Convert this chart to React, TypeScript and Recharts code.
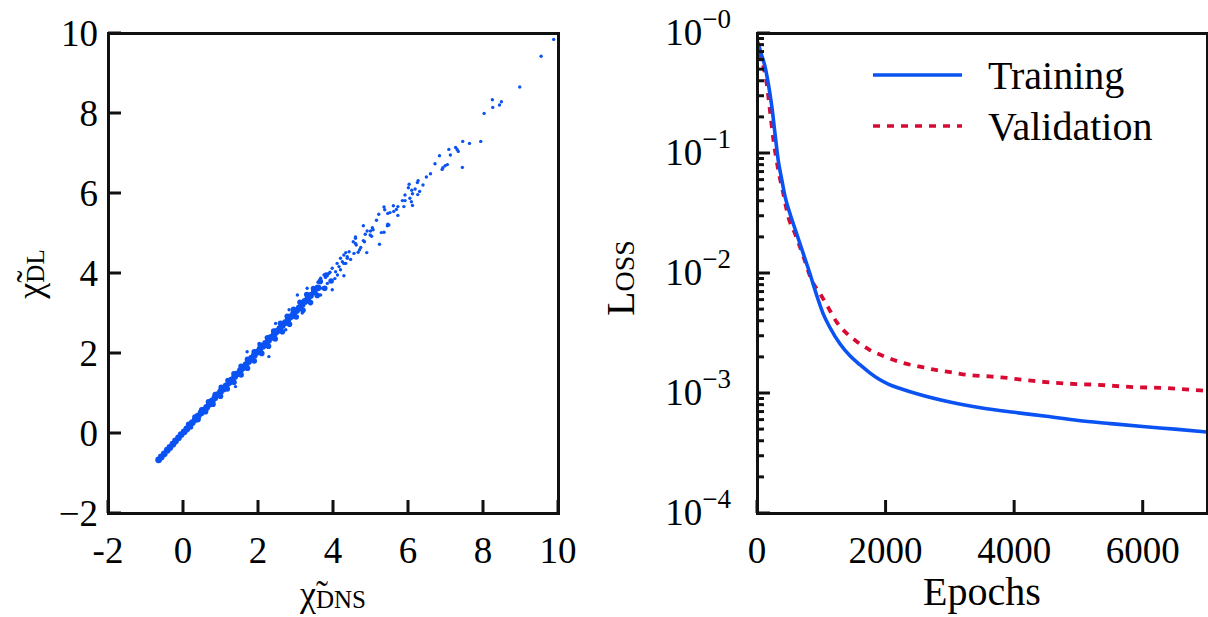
import React from 'react';
import {
  ScatterChart,
  Scatter,
  LineChart,
  Line,
  XAxis,
  YAxis,
  Legend,
} from 'recharts';

const FONT = 'Liberation Serif, DejaVu Serif, Times New Roman, serif';
const BLUE = '#0a52f2';
const RED = '#d80a32';

// left panel: chi_DNS vs chi_DL
const chiTicks = [-2, 0, 2, 4, 6, 8, 10];

// dense part of the cloud, read along the band
const bandCentre: [number, number][] = [
  [-0.65, -0.67], [-0.58, -0.6], [-0.5, -0.52], [-0.42, -0.43], [-0.35, -0.36],
  [-0.27, -0.28], [-0.2, -0.2], [-0.12, -0.12], [-0.05, -0.04], [0.03, 0.03],
  [0.1, 0.1], [0.18, 0.19], [0.25, 0.26], [0.33, 0.34], [0.4, 0.42],
  [0.48, 0.5], [0.55, 0.57], [0.63, 0.64], [0.7, 0.72], [0.78, 0.8],
  [0.85, 0.88], [0.93, 0.96], [1.0, 1.03], [1.08, 1.1], [1.15, 1.18],
  [1.23, 1.26], [1.3, 1.33], [1.38, 1.41], [1.45, 1.48], [1.53, 1.56],
  [1.6, 1.63], [1.68, 1.71], [1.75, 1.79], [1.83, 1.87], [1.9, 1.94],
  [1.98, 2.02], [2.05, 2.09], [2.13, 2.17], [2.2, 2.24], [2.28, 2.31],
  [2.35, 2.39], [2.43, 2.46], [2.5, 2.54], [2.58, 2.61], [2.65, 2.69],
  [2.73, 2.76], [2.8, 2.83], [2.88, 2.91], [2.95, 2.99], [3.03, 3.06],
  [3.1, 3.13], [3.18, 3.21], [3.25, 3.29], [3.33, 3.36], [3.4, 3.44],
  [3.5, 3.53], [3.6, 3.63],
];
const bandUpper: [number, number][] = [
  [0.15, 0.22], [0.32, 0.4], [0.5, 0.58], [0.68, 0.78], [0.86, 0.96],
  [1.02, 1.14], [1.2, 1.31], [1.36, 1.48], [1.55, 1.67], [1.72, 1.84],
  [1.9, 2.03], [2.06, 2.2], [2.25, 2.38], [2.42, 2.55], [2.6, 2.74],
  [2.78, 2.92], [2.95, 3.09], [3.12, 3.27], [3.3, 3.46], [3.48, 3.61],
  [3.66, 3.79], [3.82, 3.95],
];
const bandLower: [number, number][] = [
  [0.2, 0.15], [0.4, 0.34], [0.6, 0.53], [0.8, 0.72], [1.0, 0.92],
  [1.18, 1.1], [1.36, 1.27], [1.55, 1.45], [1.72, 1.62], [1.9, 1.8],
  [2.1, 1.99], [2.28, 2.17], [2.46, 2.35], [2.65, 2.53], [2.84, 2.72],
  [3.02, 2.9], [3.2, 3.07], [3.4, 3.26], [3.58, 3.44], [3.78, 3.62],
  [3.95, 3.8],
];

// loose points around and above the band
const loosePoints: [number, number][] = [
  [9.885, 9.84], [9.55, 9.42], [8.98, 8.65], [8.25, 8.33], [8.49, 8.28],
  [8.44, 8.2], [8.26, 8.14], [8.03, 7.99], [7.94, 7.29], [7.64, 7.24],
  [7.46, 7.29], [7.45, 6.64], [7.31, 7.09], [7.27, 7.14], [7.34, 7.04],
  [7.09, 7.09], [7.13, 6.95], [6.84, 6.93], [6.72, 6.73], [7.05, 6.71],
  [6.99, 6.68], [6.93, 6.63], [6.91, 6.59], [6.6, 6.48], [6.49, 6.4],
  [6.4, 6.2], [6.27, 6.31], [6.25, 6.26], [6.03, 6.22], [6.01, 6.13],
  [6.19, 6.1], [6.1, 6.07], [6.31, 6.04], [6.26, 5.96], [6.12, 5.98],
  [5.92, 5.95], [6.05, 5.87], [5.85, 5.81], [5.92, 5.81], [6.09, 5.78],
  [6.12, 5.69], [5.89, 5.66], [5.73, 5.66], [5.61, 5.68], [5.69, 5.59],
  [5.62, 5.54], [5.52, 5.51], [5.46, 5.49], [5.36, 5.65], [5.38, 5.58],
  [5.73, 5.44], [5.22, 5.47], [5.16, 5.32], [5.46, 5.22], [5.49, 5.2],
  [5.45, 5.18], [4.81, 5.18], [5.05, 5.13], [4.91, 5.05], [5.0, 5.05],
  [5.07, 5.08], [4.99, 4.95], [5.03, 4.92], [4.86, 4.97], [5.36, 5.02],
  [5.29, 5.01], [5.24, 4.72], [4.6, 4.9], [4.54, 4.78], [4.81, 4.81],
  [4.84, 4.78], [4.62, 4.7], [4.74, 4.64], [4.71, 4.58], [4.9, 4.51],
  [4.67, 4.52], [4.56, 4.49], [4.43, 4.53], [4.34, 4.51], [4.29, 4.45],
  [4.38, 4.41], [4.2, 4.37], [4.47, 4.34], [4.25, 4.28], [4.34, 4.24],
  [4.11, 4.24], [3.98, 4.12], [4.16, 4.16], [4.29, 3.93], [4.07, 4.03],
  [3.89, 3.99], [3.76, 3.95], [3.8, 3.89], [3.67, 3.87], [4.2, 4.08],
  [1.71, 2.03], [2.03, 2.24], [2.29, 1.91], [1.4, 1.16], [3.05, 3.45],
  [3.31, 3.62], [3.54, 3.49], [3.67, 3.45], [3.98, 3.58], [3.85, 3.74],
  [3.18, 3.0], [2.74, 2.58], [2.47, 2.74], [2.29, 2.33], [2.83, 3.08],
  [4.29, 4.24], [4.38, 4.37], [4.6, 4.74], [4.6, 4.87], [4.05, 3.86],
  [3.92, 4.02], [4.12, 3.95], [3.6, 3.77], [3.72, 3.62],
];

// right panel: loss history
const epochTicks = [0, 2000, 4000, 6000];
const trainingEpochs = [
  0, 70, 125, 175, 230, 280, 330, 385, 435, 510, 615, 720, 820, 925, 1030,
  1130, 1290, 1450, 1600, 1750, 1900, 2050, 2250, 2500, 3000, 3500, 4000,
  4500, 5000, 5500, 6000, 6500, 7000,
];
const trainingLoss = [
  0.88, 0.66, 0.525, 0.38, 0.245, 0.145, 0.087, 0.06, 0.0437, 0.0316, 0.0214,
  0.0145, 0.01, 0.0066, 0.00457, 0.00355, 0.00257, 0.00203, 0.00172, 0.00148,
  0.0013, 0.00118, 0.00108, 0.00098, 0.00084, 0.00075, 0.00069, 0.00064,
  0.00059, 0.000556, 0.000525, 0.0005, 0.000473,
];
const validationEpochs = [
  0, 100, 150, 200, 255, 330, 410, 485, 590, 720, 850, 980, 1100, 1240, 1390,
  1550, 1750, 2000, 2270, 2530, 2800, 3050, 3300, 3560, 3800, 4300, 4800,
  5300, 5850, 6350, 6900, 7000,
];
const validationLoss = [
  0.68, 0.525, 0.38, 0.229, 0.129, 0.0724, 0.0457, 0.0295, 0.0214, 0.0138,
  0.0087, 0.00676, 0.00525, 0.00389, 0.00316, 0.00269, 0.00229, 0.002,
  0.00178, 0.00166, 0.00155, 0.00148, 0.00141, 0.00138, 0.00135, 0.00126,
  0.0012, 0.00117, 0.00112, 0.0011, 0.00105, 0.00104,
];
const lossMajor = [1e-4, 1e-3, 1e-2, 1e-1, 1];

const toXY = (pts: [number, number][]) => pts.map(([x, y]) => ({ x, y }));
const trainingData = trainingEpochs.map((e, i) => ({ epoch: e, loss: trainingLoss[i] }));
const validationData = validationEpochs.map((e, i) => ({ epoch: e, loss: validationLoss[i] }));

const lossTicks: number[] = [];
lossMajor.forEach((m, i) => {
  lossTicks.push(m);
  if (i < lossMajor.length - 1) {
    for (let k = 2; k <= 9; k++) lossTicks.push(Number((m * k).toPrecision(3)));
  }
});
const isMajor = (v: number) => {
  const l = Math.log10(v);
  return Math.abs(l - Math.round(l)) < 1e-6;
};

const TICK_FS = 37;
const LONG = 13;
const SHORT = 7;
const INK = '#111';

const tickStyle = { stroke: INK, strokeWidth: 3 };
const hMark = (x: number, y: number, len: number) => (
  <line x1={x} y1={y} x2={x + len} y2={y} style={tickStyle} />
);
const vMark = (x: number, y: number, len: number) => (
  <line x1={x} y1={y} x2={x} y2={y + len} style={tickStyle} />
);

const ChiBottomTick = ({ x, y, payload }: any) => {
  const px = Number(x), py = Number(y);
  return (
    <g>
      {vMark(px, py, -LONG)}
      <text x={px} y={py + 37} textAnchor="middle" dominantBaseline="central" fontSize={TICK_FS} fontFamily={FONT}>
        {payload.value < 0 ? '-' + Math.abs(payload.value) : payload.value}
      </text>
    </g>
  );
};
const ChiLeftTick = ({ x, y, payload }: any) => {
  const px = Number(x), py = Number(y);
  return (
    <g>
      {hMark(px, py, LONG)}
      <text x={px - 10} y={py} textAnchor="end" dominantBaseline="central" fontSize={TICK_FS} fontFamily={FONT}>
        {payload.value < 0 ? '\u2212' + Math.abs(payload.value) : payload.value}
      </text>
    </g>
  );
};
const TopTick = ({ x, y }: any) => vMark(Number(x), Number(y), LONG);
const RightTick = ({ x, y }: any) => hMark(Number(x), Number(y), -LONG);
const LossLeftTick = ({ x, y, payload }: any) => {
  const px = Number(x), py = Number(y);
  const major = isMajor(payload.value);
  const e = Math.round(Math.log10(payload.value));
  return (
    <g>
      {hMark(px, py, major ? LONG : SHORT)}
      {major && (
        <text x={px - 26} y={py + 12} textAnchor="end" fontSize={TICK_FS} fontFamily={FONT}>
          10
          <tspan dy={-17} fontSize={27}>{'\u2212' + Math.abs(e)}</tspan>
        </text>
      )}
    </g>
  );
};
const LossRightTick = ({ x, y, payload }: any) =>
  hMark(Number(x), Number(y), -(isMajor(payload.value) ? LONG : SHORT));
const EpochBottomTick = ({ x, y, payload }: any) => {
  const px = Number(x), py = Number(y);
  return (
    <g>
      {vMark(px, py, -LONG)}
      <text x={px} y={py + 37} textAnchor="middle" dominantBaseline="central" fontSize={TICK_FS} fontFamily={FONT}>
        {payload.value}
      </text>
    </g>
  );
};

const dot = (r: number) => (p: any) => <circle cx={p.cx} cy={p.cy} r={r} fill={BLUE} />;

const LossLegend = ({ payload }: any) => (
  <svg width={330} height={105}>
    {(payload || []).map((entry: any, i: number) => (
      <g key={entry.value}>
        <path
          d={`M0,${25 + i * 51}h89`}
          stroke={entry.color}
          strokeWidth={3.6}
          strokeDasharray={entry.payload?.strokeDasharray}
        />
        <text x={115} y={25 + i * 51} dominantBaseline="central" fontSize={40} fontFamily={FONT}>
          {entry.value}
        </text>
      </g>
    ))}
  </svg>
);

const ChiLabel = ({ x, y, sub, rotate }: { x: number; y: number; sub: string; rotate?: boolean }) => (
  <text x={x} y={y} textAnchor="middle" dominantBaseline="central" fontSize={36} fontFamily={FONT}
    transform={rotate ? `rotate(-90 ${x} ${y})` : undefined}>
    {'\u03c7\u0303'}
    <tspan fontSize={25} dy={5}>{sub}</tspan>
  </text>
);

// plot frames as bordered boxes over the two plot areas
const frameStyle = (left: number): React.CSSProperties => ({
  position: 'absolute',
  left: left - 1,
  top: 32,
  width: 453,
  height: 483,
  boxSizing: 'border-box',
  border: `3px solid ${INK}`,
  pointerEvents: 'none',
});

export default function App() {
  return (
    <div style={{ position: 'absolute', left: 0, top: 0, width: 1208, height: 617, background: '#fff' }}>
      <div style={{ position: 'absolute', left: 0, top: 0 }}>
        <ScatterChart width={600} height={617} margin={{ top: 33, right: 42, bottom: 0, left: 48 }}>
          <XAxis type="number" dataKey="x" domain={[-2, 10]} ticks={chiTicks} interval={0}
            height={104} tickSize={0} tickMargin={0} axisLine={false} tick={<ChiBottomTick />} allowDataOverflow />
          <XAxis xAxisId="top" orientation="top" type="number" dataKey="x" domain={[-2, 10]} ticks={chiTicks}
            interval={0} height={0} tickSize={0} tickMargin={0} axisLine={false} tick={<TopTick />} allowDataOverflow />
          <YAxis type="number" dataKey="y" domain={[-2, 10]} ticks={chiTicks} interval={0}
            width={60} tickSize={0} tickMargin={0} axisLine={false} tick={<ChiLeftTick />} allowDataOverflow />
          <YAxis yAxisId="right" orientation="right" type="number" dataKey="y" domain={[-2, 10]} ticks={chiTicks}
            interval={0} width={0} tickSize={0} tickMargin={0} axisLine={false} tick={<RightTick />} allowDataOverflow />
          <Scatter data={toXY(bandCentre)} shape={dot(3.4)} isAnimationActive={false} />
          <Scatter data={toXY(bandUpper)} shape={dot(2.8)} isAnimationActive={false} />
          <Scatter data={toXY(bandLower)} shape={dot(2.8)} isAnimationActive={false} />
          <Scatter data={toXY(loosePoints)} shape={dot(1.7)} isAnimationActive={false} />
        </ScatterChart>
      </div>
      <div style={{ position: 'absolute', left: 600, top: 0 }}>
        <LineChart width={608} height={617} margin={{ top: 33, right: 1, bottom: 0, left: 57 }}>
          <XAxis type="number" dataKey="epoch" domain={[0, 7000]} ticks={epochTicks} interval={0}
            height={104} tickSize={0} tickMargin={0} axisLine={false} tick={<EpochBottomTick />} allowDataOverflow />
          <XAxis xAxisId="top" orientation="top" type="number" dataKey="epoch" domain={[0, 7000]} ticks={epochTicks}
            interval={0} height={0} tickSize={0} tickMargin={0} axisLine={false} tick={<TopTick />} allowDataOverflow />
          <YAxis type="number" scale="log" domain={[1e-4, 1]} ticks={lossTicks} interval={0}
            width={100} tickSize={0} tickMargin={0} axisLine={false} tick={<LossLeftTick />} allowDataOverflow />
          <YAxis yAxisId="right" orientation="right" type="number" scale="log" domain={[1e-4, 1]} ticks={lossTicks}
            interval={0} width={0} tickSize={0} tickMargin={0} axisLine={false} tick={<LossRightTick />} allowDataOverflow />
          <Legend
            layout="horizontal"
            verticalAlign="middle"
            align="center"
            content={<LossLegend />}
            wrapperStyle={{ position: 'absolute', left: 273, top: 50, width: 330, height: 105 }}
          />
          <Line data={validationData} dataKey="loss" name="Validation" type="monotone" stroke={RED}
            strokeWidth={3.8} strokeDasharray="7 7" dot={false} isAnimationActive={false} legendType="line" />
          <Line data={trainingData} dataKey="loss" name="Training" type="monotone" stroke={BLUE}
            strokeWidth={3.6} dot={false} isAnimationActive={false} legendType="line" />
        </LineChart>
      </div>
      <div style={frameStyle(108)} />
      <div style={frameStyle(757)} />
      <svg width={1208} height={617} style={{ position: 'absolute', left: 0, top: 0, pointerEvents: 'none' }}>
        <ChiLabel x={333} y={594} sub="DNS" />
        <ChiLabel x={30} y={274} sub="DL" rotate />
        <text x={620} y={278} textAnchor="middle" dominantBaseline="central" fontSize={40} fontFamily={FONT}
          style={{ fontVariant: 'small-caps' }} transform="rotate(-90 620 278)">
          Loss
        </text>
        <text x={982} y={591} textAnchor="middle" dominantBaseline="central" fontSize={40} fontFamily={FONT}>
          Epochs
        </text>
      </svg>
    </div>
  );
}
